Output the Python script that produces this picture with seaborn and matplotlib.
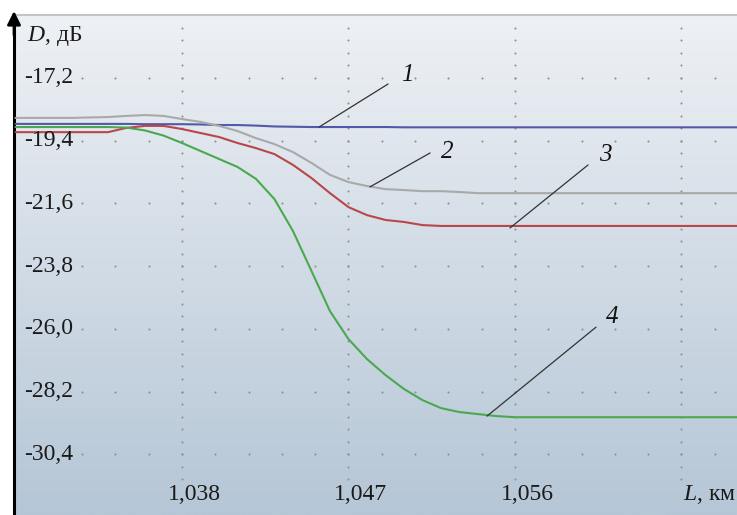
import matplotlib
matplotlib.use("Agg")
import matplotlib.pyplot as plt
import matplotlib.transforms as mtransforms
from matplotlib.colors import LinearSegmentedColormap
import numpy as np
import pandas as pd
import seaborn as sns

# data (L in km, D in dB)
length_km = [1.029, 1.032, 1.034, 1.035, 1.036, 1.037, 1.038, 1.039, 1.040,
             1.041, 1.042, 1.043, 1.044, 1.045, 1.046, 1.047, 1.048, 1.049,
             1.050, 1.051, 1.052, 1.053, 1.054, 1.055, 1.056, 1.058, 1.060,
             1.062, 1.064, 1.066, 1.068]
curve_1 = [-18.81, -18.81, -18.81, -18.81, -18.82, -18.82, -18.82, -18.83, -18.85,
           -18.85, -18.87, -18.90, -18.91, -18.92, -18.92, -18.92, -18.92, -18.92,
           -18.93, -18.93, -18.93, -18.93, -18.93, -18.93, -18.93, -18.93, -18.93,
           -18.93, -18.93, -18.93, -18.93]
curve_2 = [-18.60, -18.60, -18.57, -18.53, -18.50, -18.53, -18.64, -18.74, -18.88,
           -19.06, -19.31, -19.52, -19.80, -20.18, -20.60, -20.85, -20.99, -21.10,
           -21.13, -21.17, -21.17, -21.20, -21.24, -21.24, -21.24, -21.24, -21.24,
           -21.24, -21.24, -21.24, -21.24]
curve_3 = [-19.10, -19.10, -19.10, -18.95, -18.88, -18.88, -18.99, -19.13, -19.27,
           -19.48, -19.66, -19.87, -20.25, -20.71, -21.24, -21.73, -22.01, -22.18,
           -22.25, -22.36, -22.39, -22.39, -22.39, -22.39, -22.39, -22.39, -22.39,
           -22.39, -22.39, -22.39, -22.39]
curve_4 = [-18.92, -18.92, -18.92, -18.94, -19.04, -19.22, -19.48, -19.76, -20.04,
           -20.32, -20.74, -21.45, -22.57, -23.97, -25.38, -26.36, -27.06, -27.62,
           -28.11, -28.50, -28.78, -28.92, -28.99, -29.06, -29.10, -29.10, -29.10,
           -29.10, -29.10, -29.10, -29.10]

curve_names = ["1", "2", "3", "4"]
curve_colors = ["#5358a9", "#a9a9a9", "#b9474a", "#4aa94e"]

x_ticks = [1.038, 1.047, 1.056]
x_tick_labels = ["1,038", "1,047", "1,056"]
y_ticks = [-17.2, -19.4, -21.6, -23.8, -26.0, -28.2, -30.4]
y_tick_labels = ["-17,2", "-19,4", "-21,6", "-23,8", "-26,0", "-28,2", "-30,4"]

# leader lines: point on curve, end of line, label position
label_anchor = [(1.04541, -18.92), (1.04816, -21.02), (1.05573, -22.46), (1.05449, -29.06)]
label_line_end = [(1.04914, -17.41), (1.05141, -19.83), (1.05995, -20.25), (1.06038, -25.94)]
label_text_pos = [(1.05016, -17.08), (1.05232, -19.78), (1.06087, -19.90), (1.06124, -25.59)]

df = pd.concat([
    pd.DataFrame({"L": length_km, "D": vals, "curve": name})
    for name, vals in zip(curve_names, [curve_1, curve_2, curve_3, curve_4])
])

sns.set_style("white")
plt.rcParams["font.family"] = ["Liberation Serif", "DejaVu Serif"]
plt.rcParams["mathtext.fontset"] = "custom"
plt.rcParams["mathtext.rm"] = "Liberation Serif"
plt.rcParams["mathtext.it"] = "Liberation Serif:italic"

fig = plt.figure(figsize=(7.37, 5.15), dpi=100)
fig.patch.set_facecolor("white")
ax = fig.add_axes([14 / 737, 0, 723 / 737, 500 / 515])

xlim = (1.02892, 1.068)
ylim = (-32.53, -14.99)

# gradient background
grad_cmap = LinearSegmentedColormap.from_list("bg", ["#b5c6d6", "#eef1f5"])
ax.imshow(np.linspace(0, 1, 256)[:, None], extent=[0, 1, 0, 1], transform=ax.transAxes,
          origin="lower", aspect="auto", cmap=grad_cmap, zorder=0)

# dotted grid
x_minor = np.arange(1.0326, xlim[1], 0.0018)
y_minor = np.arange(-15.44, -31.3, -0.44)
gx, gy = np.meshgrid(x_minor, y_ticks)
ax.scatter(gx.ravel(), gy.ravel(), s=2.2, color="#909090", linewidths=0, zorder=1)
gx, gy = np.meshgrid(x_ticks + [1.065], y_minor)
ax.scatter(gx.ravel(), gy.ravel(), s=2.2, color="#909090", linewidths=0, zorder=1)

sns.lineplot(data=df, x="L", y="D", hue="curve", palette=curve_colors, estimator=None,
             sort=False, legend=False, linewidth=1.5, ax=ax, zorder=3)

ax.set_xlim(*xlim)
ax.set_ylim(*ylim)
ax.set_xticks([])
ax.set_yticks([])
ax.set_xlabel("")
ax.set_ylabel("")

for side in ["right", "bottom"]:
    ax.spines[side].set_visible(False)
ax.spines["top"].set_color("#c4c4c4")
ax.spines["top"].set_linewidth(1.5)
ax.spines["left"].set_color("black")
ax.spines["left"].set_linewidth(2.2)
ax.annotate("", xy=(0, 1.008), xytext=(0, 0.96), xycoords="axes fraction",
            arrowprops=dict(arrowstyle="-|>", color="black", lw=2, mutation_scale=20,
                            shrinkA=0, shrinkB=0), annotation_clip=False, zorder=6)

# tick labels inside the plot
ytr = ax.get_yaxis_transform()
for val, txt in zip(y_ticks, y_tick_labels):
    ax.text(0.082, val, txt, transform=ytr, ha="right", va="center", fontsize=17, color="#1a1a1a")
xtr = mtransforms.offset_copy(ax.get_xaxis_transform(), fig=fig, x=12, y=0, units="dots")
for val, txt in zip(x_ticks, x_tick_labels):
    ax.text(val, 0.04, txt, transform=xtr, ha="center", va="center", fontsize=17, color="#1a1a1a")

ax.text(0.018, 0.958, r"$\mathit{D}$, дБ", transform=ax.transAxes, ha="left", va="center",
        fontsize=17, color="#1a1a1a")
ax.text(1.0651, 0.04, r"$\mathit{L}$, км", transform=ax.get_xaxis_transform(), ha="left",
        va="center", fontsize=17, color="#1a1a1a")

for name, anchor, end, pos in zip(curve_names, label_anchor, label_line_end, label_text_pos):
    ax.annotate("", xy=anchor, xytext=end,
                arrowprops=dict(arrowstyle="-", color="#333333", lw=0.9, shrinkA=0, shrinkB=0),
                zorder=4)
    ax.text(pos[0], pos[1], name, ha="center", va="center", fontsize=18,
            style="italic", color="#111111", zorder=5)

fig.savefig("out.png", dpi=100)
